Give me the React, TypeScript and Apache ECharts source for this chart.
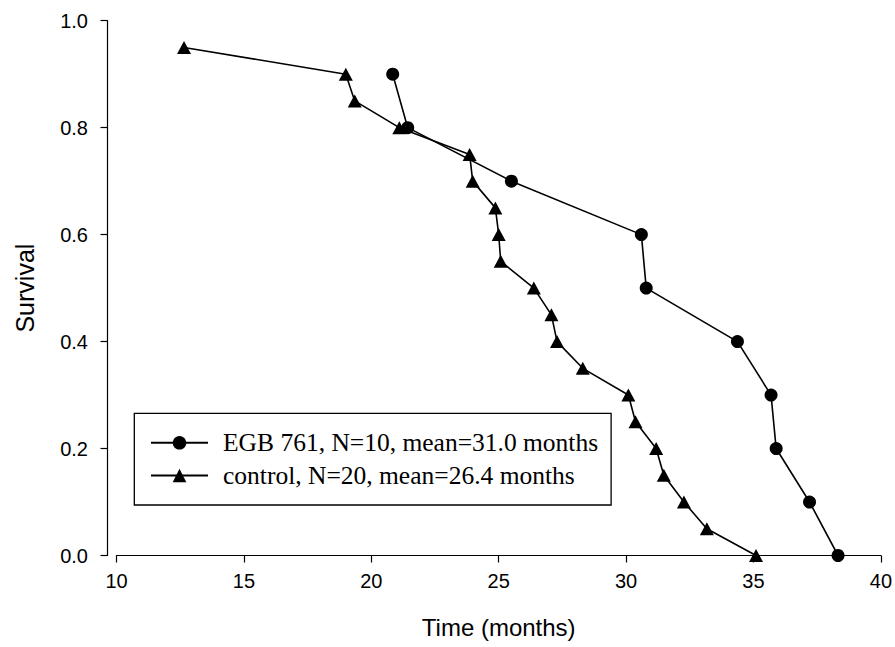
import React, { useEffect, useRef } from "react";
import * as echarts from "echarts";

const egbTime = [20.84, 21.43, 25.5, 30.6, 30.79, 34.37, 35.69, 35.89, 37.2, 38.32];
const egbSurvival = [0.9, 0.8, 0.7, 0.6, 0.5, 0.4, 0.3, 0.2, 0.1, 0.0];

const controlTime = [
  12.65, 19.0, 19.35, 21.1, 23.86, 23.98, 24.87, 25.0, 25.08, 26.38,
  27.07, 27.29, 28.3, 30.09, 30.37, 31.18, 31.48, 32.27, 33.17, 35.1,
];
const controlSurvival = [
  0.95, 0.9, 0.85, 0.8, 0.75, 0.7, 0.65, 0.6, 0.55, 0.5,
  0.45, 0.4, 0.35, 0.3, 0.25, 0.2, 0.15, 0.1, 0.05, 0.0,
];

const seriesNames = [
  "EGB 761, N=10, mean=31.0 months",
  "control, N=20, mean=26.4 months",
];

const xTitle = "Time (months)";
const yTitle = "Survival";

const zip = (xs: number[], ys: number[]) => xs.map((x, i) => [x, ys[i]]);

export default function App() {
  const ref = useRef<HTMLDivElement>(null);
  useEffect(() => {
    if (!ref.current) return;
    const chart = echarts.init(ref.current, null, { renderer: "svg" });
    const sans = "Liberation Sans, Arial, sans-serif";
    chart.setOption({
      animation: false,
      backgroundColor: "#fff",
      grid: { left: 116.5, right: 13.5, top: 20.7, bottom: 91.5, containLabel: false },
      xAxis: {
        type: "value",
        min: 10,
        max: 40,
        interval: 5,
        name: xTitle,
        nameLocation: "middle",
        nameGap: 60,
        nameTextStyle: { fontFamily: sans, fontSize: 24, color: "#000" },
        axisLine: { show: true, lineStyle: { color: "#000", width: 1.2 } },
        axisTick: { show: true, inside: false, length: 7, lineStyle: { color: "#000", width: 1.2 } },
        axisLabel: { fontFamily: sans, fontSize: 20, color: "#000", margin: 15 },
        splitLine: { show: false },
      },
      yAxis: {
        type: "value",
        min: 0,
        max: 1,
        interval: 0.2,
        offset: 9,
        name: yTitle,
        nameLocation: "middle",
        nameGap: 70,
        nameRotate: 90,
        nameTextStyle: { fontFamily: sans, fontSize: 25, color: "#000" },
        axisLine: { show: true, lineStyle: { color: "#000", width: 1.2 } },
        axisTick: { show: true, inside: false, length: 7, lineStyle: { color: "#000", width: 1.2 } },
        axisLabel: {
          fontFamily: sans,
          fontSize: 20,
          color: "#000",
          margin: 19.5,
          formatter: (v: number) => v.toFixed(1),
        },
        splitLine: { show: false },
      },
      legend: {
        orient: "vertical",
        left: 134.3,
        top: 413.3,
        padding: [16.5, 13, 16.5, 15.7],
        itemWidth: 57,
        itemHeight: 17,
        itemGap: 6.7,
        borderColor: "#000",
        borderWidth: 1.3,
        backgroundColor: "#fff",
        textStyle: {
          fontFamily: "Liberation Serif, Times New Roman, serif",
          fontSize: 25.5,
          lineHeight: 26,
          color: "#000",
          padding: [0, 0, 0, 10],
        },
        data: seriesNames,
      },
      series: [
        {
          name: seriesNames[0],
          type: "line",
          data: zip(egbTime, egbSurvival),
          symbol: "circle",
          symbolSize: 13,
          showAllSymbol: true,
          lineStyle: { color: "#000", width: 1.6 },
          itemStyle: { color: "#000" },
          z: 3,
        },
        {
          name: seriesNames[1],
          type: "line",
          data: zip(controlTime, controlSurvival),
          symbol: "triangle",
          symbolSize: [14, 13],
          showAllSymbol: true,
          lineStyle: { color: "#000", width: 1.6 },
          itemStyle: { color: "#000" },
          z: 2,
        },
      ],
    });
    return () => chart.dispose();
  }, []);
  return (
    <div
      ref={ref}
      style={{ position: "absolute", left: 0, top: 0, width: 895, height: 647 }}
    />
  );
}
